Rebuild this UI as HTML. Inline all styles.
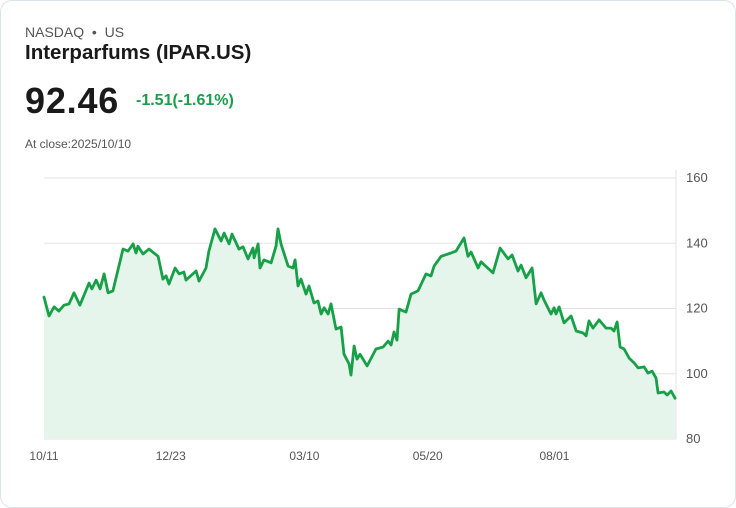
<!DOCTYPE html>
<html><head><meta charset="utf-8">
<style>
html,body{margin:0;padding:0;background:#fff;}
body{width:736px;height:508px;overflow:hidden;font-family:"Liberation Sans",sans-serif;}
.card{position:absolute;left:0;top:0;width:734px;height:506px;border:1px solid #dde3ea;border-radius:12px;background:#fff;}
.t{position:absolute;white-space:nowrap;}
</style></head><body>
<div class="card">
<div class="t" style="left:24px;top:23px;font-size:14px;color:#555;">NASDAQ &nbsp;•&nbsp; US</div>
<div class="t" style="left:24px;top:40px;font-size:20.5px;font-weight:bold;color:#1a1a1a;">Interparfums (IPAR.US)</div>
<div class="t" style="left:24px;top:79px;font-size:36px;font-weight:bold;color:#1a1a1a;letter-spacing:0.8px;">92.46</div>
<div class="t" style="left:135px;top:91px;font-size:16px;font-weight:bold;color:#1a9e4a;">-1.51(-1.61%)</div>
<div class="t" style="left:24px;top:136px;font-size:12px;color:#555;">At close:2025/10/10</div>
<svg id="chart" width="736" height="508" style="position:absolute;left:-1px;top:-1px;"></svg>
</div>
<script>
const days=[0,2.9,5.8,8.6,11.5,14.4,17.3,20.7,25.9,27.6,30,32.3,34.6,36.9,39.7,45.5,48.4,51.3,53,54.1,57,60.5,65.7,68.5,70.3,72,75.5,77.8,80.6,81.8,87.6,89.3,93.3,95,98.5,102,103.7,106.6,108.3,112.3,114.6,117.5,120.4,121,123.3,124.4,126.7,130.8,133.6,134.8,136.5,140.6,143.4,144.6,146.3,148,150.9,152.6,155.5,157.8,159.6,161.3,163.6,165.3,168.2,171.1,172.8,175.7,176.8,178.6,180.3,182,186.1,191.2,195.3,198.2,199.9,201.6,203.3,204.5,208.5,211.4,215.4,220,222.9,224.7,228.7,234.4,237.3,241.9,244.2,246,250,251.7,258.6,262.7,267.3,269.6,273,274.8,277.6,281.1,283.4,286.3,288,292,293.8,294.9,296.7,299.5,303.6,306.5,310.5,312.2,313.9,316.2,319.7,323.7,326.6,328.3,330.1,331.8,334.1,337,339.9,342.2,345.6,347.9,350.2,352.5,353.7,357.1,358.9,361.2,363.5];
const prices=[123.5,117.7,120.5,119.2,121,121.4,124.8,121,127.8,126,128.7,126,130.6,124.8,125.4,138.2,137.6,139.8,137,139.1,136.7,138.2,136,129,130,127.5,132.4,130.6,131.2,128.7,131.5,128.4,132.4,137.6,144.4,140.7,143.1,139.8,142.8,138.2,138.9,135.2,138.5,135.5,139.8,132.4,134.9,134,139.1,144.4,139.8,133,132.4,134.9,126.9,129,124.4,126.9,121.7,122.3,118.3,120.2,118.3,121.4,113.7,114.3,106,103,99.6,108.5,104.5,106,102.4,107.6,108.2,110,108.8,112.8,110.3,119.8,118.9,124.4,125.4,130.6,130,133,136,137,137.6,141.6,136,137.3,132.4,134.3,130.9,138.5,135.2,136.4,131.5,133.3,129.4,132.4,121.4,124.8,122.6,118.3,120.2,118.3,120.5,115.6,117.7,113.1,112.5,111.6,116.2,114,116.5,114,114,113.1,115.9,108.2,107.6,104.8,103.3,101.8,102.1,100.2,100.8,98.7,94.1,94.4,93.5,94.7,92.46];
const yTicks=[80,100,120,140,160];
const xTickDays=[0,73,150,221,294];
const xTickLabels=["10/11","12/23","03/10","05/20","08/01"];

const NS="http://www.w3.org/2000/svg";
const svg=document.getElementById('chart');
const X0=44,X1=676,Y0=439,Y1=178;
const xs=d=>X0+(d/364)*(X1-X0);
const ys=v=>Y0-(v-80)/80*(Y0-Y1);
function mk(tag,attrs){const e=document.createElementNS(NS,tag);for(const k in attrs)e.setAttribute(k,attrs[k]);svg.appendChild(e);return e;}
yTicks.forEach(v=>{
  const l=mk('line',{x1:X0,x2:X1,y1:ys(v),y2:ys(v),stroke:'#e3e3e3','stroke-width':1});
  
  
  const t=mk('text',{x:686,y:ys(v)+4,'font-size':13,fill:'#555','font-family':'Liberation Sans, sans-serif'});
  t.textContent=v;
  
  
});
const ax=mk('line',{x1:X1,x2:X1,y1:Y1-8,y2:Y0,stroke:'#e3e3e3','stroke-width':1});


xTickDays.forEach((d,i)=>{
  const t=mk('text',{x:xs(d),y:460,'font-size':12,fill:'#555','text-anchor':'middle','font-family':'Liberation Sans, sans-serif'});
  t.textContent=xTickLabels[i];
  
  
});
let d='';
days.forEach((dd,i)=>{d+=(i?'L':'M')+xs(dd).toFixed(1)+','+ys(prices[i]).toFixed(1);});
const area=mk('path',{d:d+'L'+xs(days[days.length-1])+','+Y0+'L'+xs(days[0])+','+Y0+'Z',fill:'#e6f5ec',stroke:'none'});


const line=mk('path',{d:d,fill:'none',stroke:'#18a048','stroke-width':2.8,'stroke-linejoin':'round','stroke-linecap':'round'});


</script>
</body></html>
